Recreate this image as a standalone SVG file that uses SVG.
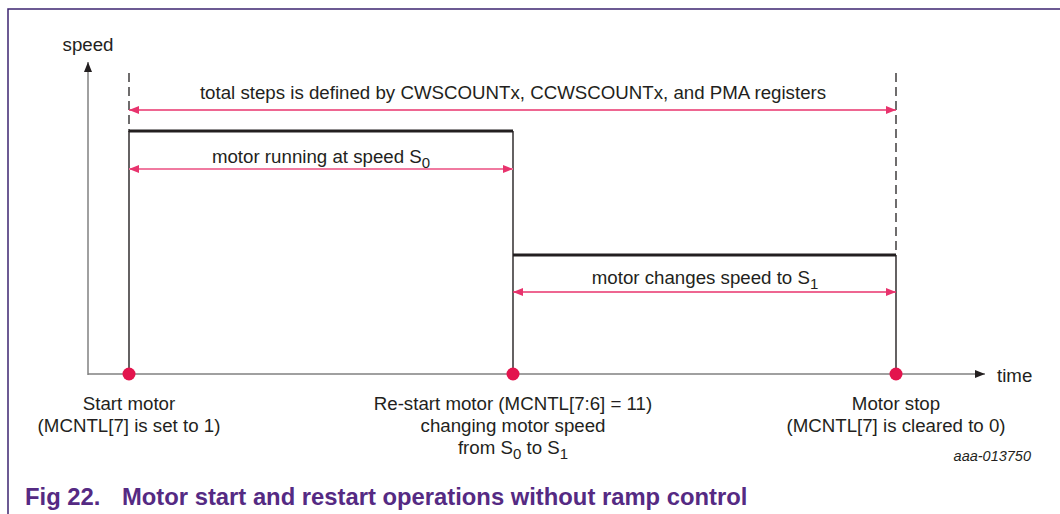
<svg xmlns="http://www.w3.org/2000/svg" width="1060" height="514" viewBox="0 0 1060 514">
<style>
.t{font-family:"Liberation Sans",Arial,sans-serif;font-size:18.7px;fill:#231f20}
.c{text-anchor:middle}
.sub{font-size:15px}
.ax{stroke:#808080;stroke-width:1.5;fill:none}
.ln{stroke:#231f20;stroke-width:1.4;fill:none}
.bar{stroke:#231f20;stroke-width:3;fill:none}
.dash{stroke:#231f20;stroke-width:1.3;stroke-dasharray:9,5;fill:none}
.dim{stroke:#e8336d;stroke-width:1.4;fill:none;marker-start:url(#pa);marker-end:url(#pa)}
.dim2{stroke:#f07aa0;stroke-width:2;fill:none;marker-start:url(#pa2);marker-end:url(#pa2)}
.dot{fill:#e3144d}
</style>
<defs>
<marker id="pa" viewBox="0 0 10 8" refX="10" refY="4" markerWidth="10" markerHeight="8" markerUnits="userSpaceOnUse" orient="auto-start-reverse"><path d="M0,0L10,4L0,8z" fill="#e8336d"/></marker>
<marker id="pa2" viewBox="0 0 10 8" refX="10" refY="4" markerWidth="10" markerHeight="8" markerUnits="userSpaceOnUse" orient="auto-start-reverse"><path d="M0,0L10,4L0,8z" fill="#e8336d"/></marker>
<marker id="ka" viewBox="0 0 10 8" refX="10" refY="4" markerWidth="10" markerHeight="8" markerUnits="userSpaceOnUse" orient="auto"><path d="M0,0L10,4L0,8z" fill="#231f20"/></marker>
</defs>
<g id="frame" stroke="#3c2470" stroke-width="1.5" fill="none"><path d="M8,514V9H1060"/></g>
<g id="axes">
<line class="ax" x1="88" y1="375" x2="88" y2="62" marker-end="url(#ka)"/>
<line class="ax" x1="88" y1="374" x2="985" y2="374" marker-end="url(#ka)"/>
<text class="t c" x="88" y="51">speed</text>
<text class="t" x="997" y="382">time</text>
</g>
<g id="connectors">
<line class="dash" x1="129" y1="73" x2="129" y2="132"/>
<line class="dash" x1="896" y1="73" x2="896" y2="255"/>
<line class="bar" x1="129" y1="131" x2="513" y2="131"/>
<line class="bar" x1="513" y1="255" x2="896" y2="255"/>
<line class="ln" x1="129" y1="131" x2="129" y2="374"/>
<line class="ln" x1="513" y1="131" x2="513" y2="374"/>
<line class="ln" x1="896" y1="255" x2="896" y2="374"/>
<line class="dim" x1="129" y1="110" x2="896" y2="110"/>
<line class="dim2" x1="129" y1="169" x2="513" y2="169"/>
<line class="dim" x1="513" y1="292" x2="896" y2="292"/>
</g>
<g id="label-total"><text class="t c" x="513" y="99">total steps is defined by CWSCOUNTx, CCWSCOUNTx, and PMA registers</text></g>
<g id="label-s0"><text class="t c" x="321" y="163">motor running at speed S<tspan class="sub" dy="5">0</tspan></text></g>
<g id="label-s1"><text class="t c" x="705" y="284">motor changes speed to S<tspan class="sub" dy="5">1</tspan></text></g>
<g id="start">
<circle class="dot" cx="129" cy="374" r="6.5"/>
<text class="t c" x="129" y="410">Start motor</text>
<text class="t c" x="129" y="432">(MCNTL[7] is set to 1)</text>
</g>
<g id="restart">
<circle class="dot" cx="513" cy="374" r="6.5"/>
<text class="t c" x="513" y="410">Re-start motor (MCNTL[7:6] = 11)</text>
<text class="t c" x="513" y="432">changing motor speed</text>
<text class="t c" x="513" y="454">from S<tspan class="sub" dy="5">0</tspan><tspan dy="-5"> to S</tspan><tspan class="sub" dy="5">1</tspan></text>
</g>
<g id="stop">
<circle class="dot" cx="896" cy="374" r="6.5"/>
<text class="t c" x="896" y="410">Motor stop</text>
<text class="t c" x="896" y="432">(MCNTL[7] is cleared to 0)</text>
</g>
<text class="t" x="1031" y="461" style="font-size:14.5px;font-style:italic;text-anchor:end">aaa-013750</text>
<text x="25" y="505" style="font-family:'Liberation Sans',Arial,sans-serif;font-size:23.8px;font-weight:bold;fill:#552a83">Fig 22.<tspan x="122">Motor start and restart operations without ramp control</tspan></text>
</svg>
